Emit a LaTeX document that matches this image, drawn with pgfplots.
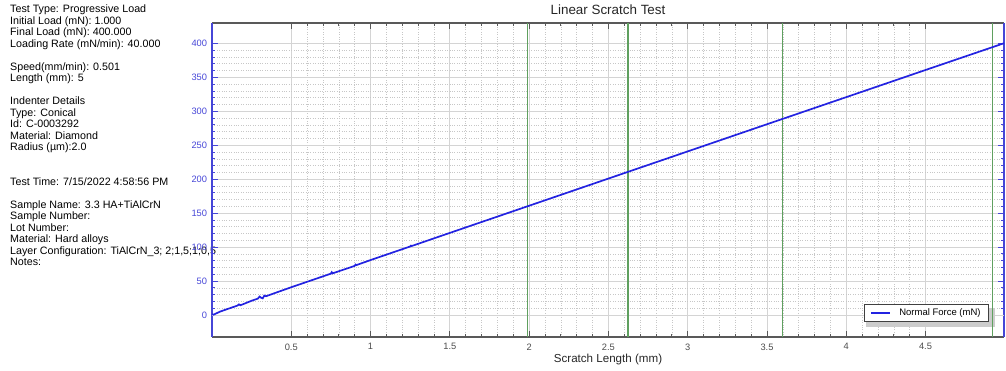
\documentclass[border=0pt]{standalone}
\usepackage{fontspec}
\setmainfont{Liberation Sans}
\usepackage{pgfplots}
\pgfplotsset{compat=1.18}
\definecolor{lineblue}{RGB}{35,35,225}
\definecolor{axblue}{RGB}{70,70,215}
\definecolor{gline}{RGB}{95,160,95}
\definecolor{zeroblue}{RGB}{175,195,235}
\begin{document}
\begin{tikzpicture}[x=1pt,y=1pt]
\useasboundingbox (0,0) rectangle (1006,371);
\node[anchor=north west, inner sep=0pt, align=left, font=\fontsize{10.7}{11.5}\selectfont] at (10,366) {%
Test Type: Progressive Load\\
Initial Load (mN): 1.000\\
Final Load (mN): 400.000\\
Loading Rate (mN/min): 40.000\\[11.5pt]
Speed(mm/min): 0.501\\
Length (mm): 5\\[11.5pt]
Indenter Details\\
Type: Conical\\
Id: C-0003292\\
Material: Diamond\\
Radius (µm):2.0\\[23pt]
Test Time: 7/15/2022 4:58:56 PM\\[11.5pt]
Sample Name: 3.3 HA+TiAlCrN\\
Sample Number:\\
Lot Number:\\
Material: Hard alloys\\
Layer Configuration: TiAlCrN\_3; 2;1,5;1;0,5\\
Notes:};
\begin{axis}[
  at={(212pt,34pt)}, anchor=south west,
  scale only axis, width=792pt, height=314pt,
  xmin=0, xmax=4.995, ymin=-32.4, ymax=430,
  xtick={0.5,1,...,4.5}, ytick={0,50,...,400},
  minor x tick num=4, minor y tick num=4,
  /pgf/number format/assume math mode=true,
  grid=both,
  major grid style={black!17, line width=0.8pt},
  minor grid style={black!22, dotted, line width=0.6pt},
  extra y ticks={0}, extra y tick labels={},
  extra y tick style={grid style={zeroblue, line width=0.9pt}, major tick length=0pt},
  major tick length=6pt, minor tick length=3pt,
  separate axis lines,
  x axis line style={black!65, line width=1.6pt},
  y axis line style={axblue, line width=1.6pt},
  x tick style={black!65, line width=0.8pt},
  y tick style={axblue, line width=0.8pt},
  tick label style={font=\fontsize{9.3}{10}\selectfont},
  x tick label style={black!70, yshift=-3pt},
  y tick label style={axblue, xshift=-1.4pt},
  title={Linear Scratch Test},
  title style={at={(0.5,1)}, anchor=base, yshift=2.5pt, font=\fontsize{13.4}{15}\selectfont, black!85},
  xlabel={Scratch Length (mm)},
  xlabel style={at={(0.5,0)}, anchor=base, yshift=-25.8pt, font=\fontsize{11.6}{13}\selectfont, black!85},
  legend image code/.code={\draw[#1] (0pt,0pt) -- (19pt,0pt);},
  legend style={at={(0.981,0.047)}, anchor=south east, draw=black!75, line width=0.8pt,
    fill=white, inner xsep=6pt, inner ysep=2.5pt,
    font=\fontsize{9.5}{11}\selectfont, column sep=6pt},
]
\fill[black!20] (rel axis cs:0.826,0.031) rectangle (rel axis cs:0.989,0.093);
\addplot[gline, line width=1.5pt, forget plot] coordinates {(1.99,-32.4) (1.99,430)};
\addplot[gline, line width=1.5pt, forget plot] coordinates {(2.623,-32.4) (2.623,430)};
\addplot[gline, line width=1.5pt, forget plot] coordinates {(3.598,-32.4) (3.598,430)};
\addplot[gline, line width=1.5pt, forget plot] coordinates {(4.921,-32.4) (4.921,430)};
\addplot[lineblue, line width=1.7pt] coordinates {
(0.000,1.0) (0.010,0.5) (0.050,4.9) (0.100,9.0) (0.160,13.8) (0.170,15.6) (0.180,14.4)
(0.250,21.0) (0.290,24.2) (0.300,27.2) (0.310,25.4) (0.320,24.5) (0.330,28.6) (0.340,27.6)
(0.500,40.9) (0.750,60.9) (0.755,63.0) (0.760,61.3) (0.900,72.3) (0.905,74.2) (0.910,73.4)
(1.000,80.9) (1.250,100.9) (1.255,102.2) (1.260,101.6) (1.500,120.9) (2.000,160.9)
(2.500,200.9) (3.000,240.9) (3.500,280.9) (4.000,320.8) (4.500,360.8) (4.995,400.2)};
\addlegendentry{Normal Force (mN)}
\end{axis}
\end{tikzpicture}
\end{document}
